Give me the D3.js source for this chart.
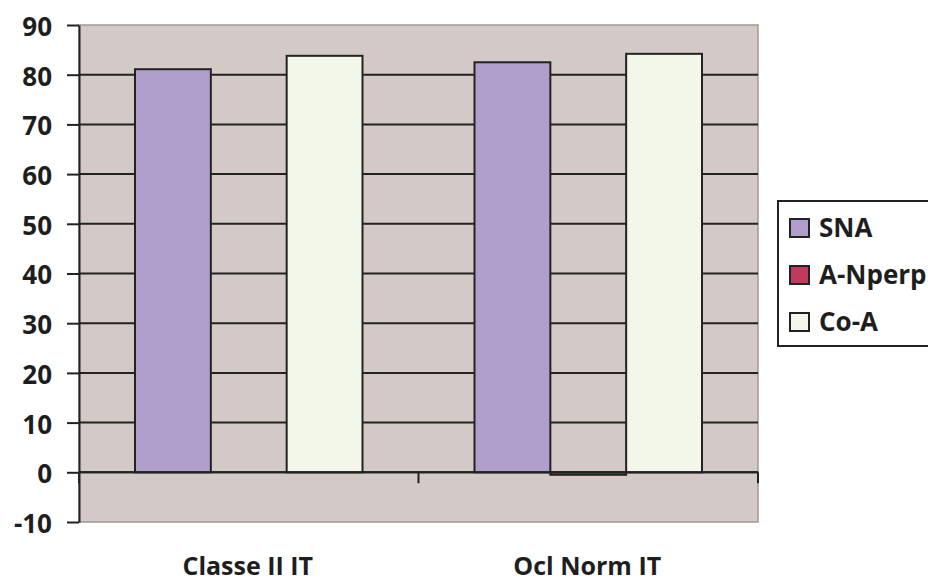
<!DOCTYPE html>
<html>
<head>
<meta charset="utf-8">
<script src="https://cdn.jsdelivr.net/npm/d3@7"></script>
<style>
  body { margin: 0; background: #fff; }
  svg { display: block; font-family: "Open Sans", sans-serif; font-weight: bold; }
</style>
</head>
<body>
<svg id="chart" width="928" height="583"></svg>
<script>
const categories = ['Classe II IT', 'Ocl Norm IT'];
const seriesNames = ['SNA', 'A-Nperp', 'Co-A'];
const sna = [81.1, 82.5];
const aNperp = [0, -0.5];
const coA = [83.8, 84.2];
const yTicks = [-10, 0, 10, 20, 30, 40, 50, 60, 70, 80, 90];
const colors = ['#b09fcc', '#bf3a5c', '#f3f7ea'];

const seriesValues = [sna, aNperp, coA];
const data = categories.map((c, i) => ({
  category: c,
  values: seriesNames.map((s, j) => ({ name: s, value: seriesValues[j][i], color: colors[j] }))
}));

const svg = d3.select('#chart');
const plot = { left: 79, right: 758, top: 25, bottom: 522 };
const font = '"Open Sans", sans-serif';
const ink = '#1e1e1e';
const fontSize = 26;

const x0 = d3.scaleBand().domain(categories).range([plot.left, plot.right]);
const groupPad = 56;
const x1 = d3.scaleBand().domain(seriesNames).range([groupPad, x0.bandwidth() - groupPad]);
const y = d3.scaleLinear().domain([-10, 90]).range([plot.bottom, plot.top]);

// plot background
svg.append('rect')
  .attr('x', plot.left).attr('y', plot.top)
  .attr('width', plot.right - plot.left).attr('height', plot.bottom - plot.top)
  .attr('fill', '#d3cac8')
  .attr('stroke', '#a09898').attr('stroke-width', 1.5);

// gridlines
svg.append('g')
  .selectAll('line')
  .data(yTicks.filter(t => t !== -10 && t !== 90))
  .join('line')
  .attr('x1', plot.left).attr('x2', plot.right)
  .attr('y1', d => y(d)).attr('y2', d => y(d))
  .attr('stroke', '#222').attr('stroke-width', 2);

// bars
const groups = svg.append('g')
  .selectAll('g')
  .data(data)
  .join('g')
  .attr('transform', d => `translate(${x0(d.category)},0)`);

groups.selectAll('rect')
  .data(d => d.values)
  .join('rect')
  .attr('x', d => x1(d.name))
  .attr('width', x1.bandwidth())
  .attr('y', d => y(Math.max(0, d.value)))
  .attr('height', d => Math.abs(y(d.value) - y(0)))
  .attr('fill', d => d.color)
  .attr('stroke', '#222').attr('stroke-width', 2);

// x axis at zero
const xAxis = svg.append('g')
  .attr('transform', `translate(0,${y(0)})`);
xAxis.append('line')
  .attr('x1', plot.left).attr('x2', plot.right)
  .attr('stroke', '#222').attr('stroke-width', 2);
xAxis.selectAll('line.tick')
  .data(categories.map(c => x0(c)).concat([plot.right]))
  .join('line')
  .attr('class', 'tick')
  .attr('x1', d => d).attr('x2', d => d)
  .attr('y1', 0).attr('y2', 11)
  .attr('stroke', '#222').attr('stroke-width', 2);

// category labels, near the bottom edge as in the original
svg.append('g')
  .selectAll('text')
  .data(categories)
  .join('text')
  .attr('x', d => x0(d) + x0.bandwidth() / 2 - 1)
  .attr('y', 575)
  .attr('text-anchor', 'middle')
  .attr('font-size', 25)
  .attr('fill', ink)
  .text(d => d);

// y axis
const yAxis = svg.append('g')
  .attr('transform', `translate(${plot.left},0)`)
  .call(d3.axisLeft(y).tickValues(yTicks).tickFormat(d => String(d))
    .tickSize(12).tickSizeOuter(0).tickPadding(15));
yAxis.select('.domain').attr('stroke', '#222').attr('stroke-width', 2);
yAxis.selectAll('.tick line').attr('stroke', '#222').attr('stroke-width', 2);
yAxis.selectAll('.tick text')
  .attr('font-size', fontSize).attr('font-weight', 'bold')
  .attr('font-family', font)
  .attr('dy', '0.4em')
  .attr('fill', ink);

// legend
const legend = svg.append('g').attr('transform', 'translate(778,201)');
legend.append('rect')
  .attr('width', 170).attr('height', 145)
  .attr('fill', '#fff').attr('stroke', '#222').attr('stroke-width', 2);
const items = legend.selectAll('g.item')
  .data(seriesNames)
  .join('g')
  .attr('class', 'item')
  .attr('transform', (d, i) => `translate(12,${18 + i * 47})`);
items.append('rect')
  .attr('width', 19).attr('height', 18)
  .attr('fill', (d, i) => colors[i])
  .attr('stroke', '#222').attr('stroke-width', 2);
items.append('text')
  .attr('x', 29).attr('y', 18)
  .attr('font-size', fontSize)
  .attr('fill', ink)
  .text(d => d);
</script>
</body>
</html>
